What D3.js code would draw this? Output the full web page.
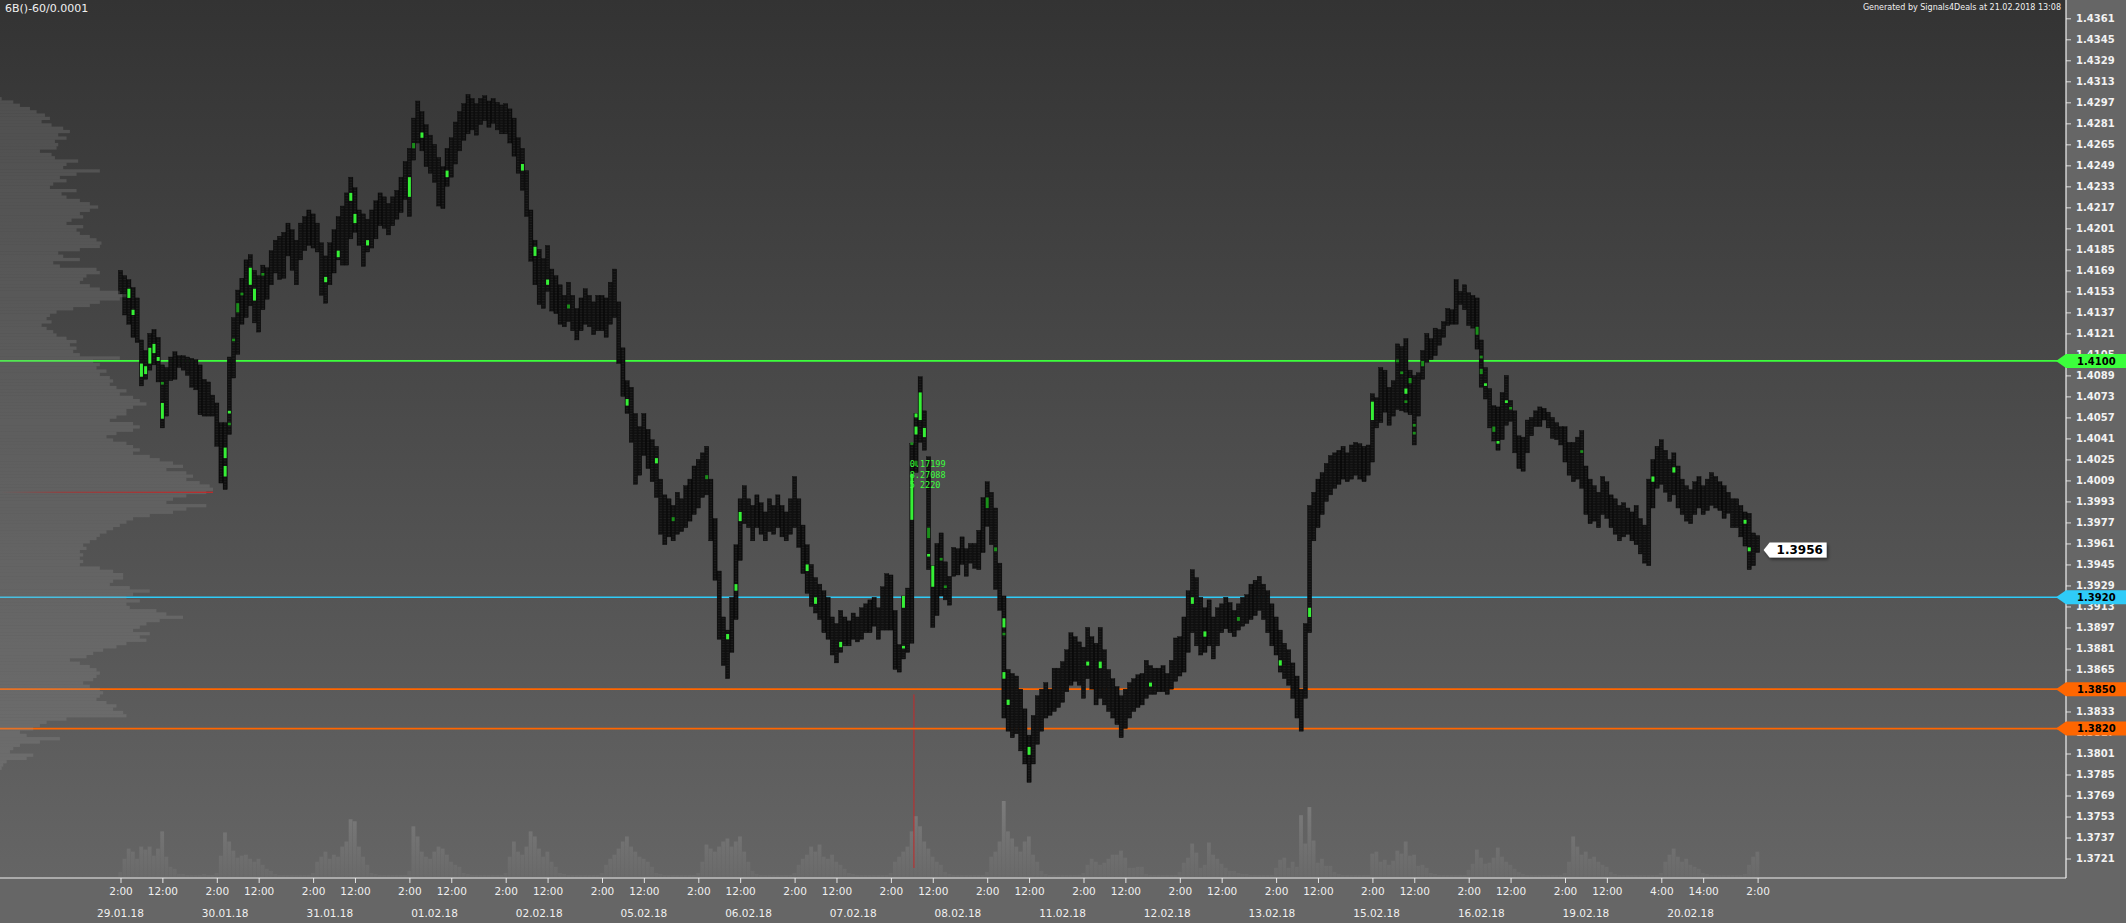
<!DOCTYPE html>
<html><head><meta charset="utf-8">
<script src="https://cdn.jsdelivr.net/npm/d3@7"></script>
<style>
html,body{margin:0;padding:0;background:#656565;overflow:hidden}
svg{display:block}
</style></head><body>
<svg id="c" width="2126" height="923"></svg>
<script>
// ---------------- DATA ----------------
const titleText = "6B()-60/0.0001";
const generatedText = "Generated by Signals4Deals at 21.02.2018 13:08";

// hourly bars (index 0 = 29.01.18 2:00), high / low prices
const highs = [
1.4169,1.4165,1.4162,1.4156,1.4148,1.4116,1.4108,1.4121,1.4124,1.4118,
1.4097,1.4095,1.4103,1.4107,1.4104,1.4104,1.4103,1.4102,1.4101,1.4097,
1.4086,1.4084,1.4074,1.4068,1.4053,1.4053,1.4103,1.4133,1.4154,1.4163,
1.4177,1.4181,1.4169,1.4165,1.4173,1.4171,1.4184,1.4192,1.4195,1.4198,
1.4205,1.4200,1.4192,1.4205,1.4210,1.4215,1.4212,1.4205,1.4190,1.4180,
1.4190,1.4200,1.4210,1.4218,1.4228,1.4240,1.4232,1.4215,1.4212,1.4208,
1.4215,1.4222,1.4228,1.4225,1.4220,1.4225,1.4230,1.4240,1.4252,1.4262,
1.4285,1.4298,1.4290,1.4280,1.4272,1.4265,1.4255,1.4248,1.4262,1.4270,
1.4282,1.4290,1.4296,1.4303,1.4300,1.4296,1.4300,1.4302,1.4298,1.4300,
1.4297,1.4295,1.4296,1.4292,1.4285,1.4270,1.4262,1.4245,1.4215,1.4192,
1.4185,1.4178,1.4188,1.4170,1.4165,1.4158,1.4150,1.4160,1.4150,1.4140,
1.4148,1.4155,1.4150,1.4145,1.4150,1.4150,1.4148,1.4160,1.4170,1.4145,
1.4110,1.4085,1.4080,1.4060,1.4050,1.4060,1.4048,1.4040,1.4035,1.4010,
1.3998,1.3995,1.3990,1.4000,1.3995,1.4005,1.4010,1.4020,1.4025,1.4030,
1.4035,1.4010,1.3980,1.3940,1.3905,1.3895,1.3920,1.3960,1.3995,1.4005,
1.3995,1.3990,1.3998,1.3992,1.3985,1.3995,1.3990,1.3998,1.3990,1.3985,
1.3995,1.4012,1.3995,1.3975,1.3960,1.3945,1.3935,1.3930,1.3925,1.3920,
1.3905,1.3900,1.3910,1.3905,1.3902,1.3908,1.3905,1.3912,1.3915,1.3918,
1.3920,1.3912,1.3928,1.3938,1.3937,1.3910,1.3884,1.3921,1.3927,1.4037,
1.4060,1.4088,1.4062,1.4027,1.3944,1.3961,1.3969,1.3947,1.3936,1.3958,
1.3957,1.3966,1.3957,1.3961,1.3961,1.3971,1.3996,1.4008,1.4000,1.3988,
1.3946,1.3921,1.3865,1.3862,1.3860,1.3850,1.3835,1.3815,1.3830,1.3845,
1.3850,1.3855,1.3850,1.3866,1.3866,1.3871,1.3880,1.3893,1.3890,1.3886,
1.3882,1.3897,1.3890,1.3885,1.3897,1.3880,1.3865,1.3858,1.3852,1.3845,
1.3850,1.3855,1.3858,1.3861,1.3862,1.3872,1.3868,1.3866,1.3866,1.3868,
1.3862,1.3872,1.3889,1.3890,1.3905,1.3925,1.3941,1.3935,1.3920,1.3912,
1.3918,1.3905,1.3912,1.3915,1.3920,1.3916,1.3910,1.3915,1.3920,1.3922,
1.3930,1.3933,1.3936,1.3930,1.3925,1.3915,1.3905,1.3895,1.3885,1.3880,
1.3870,1.3860,1.3850,1.3900,1.3990,1.4000,1.4010,1.4015,1.4022,1.4028,
1.4030,1.4032,1.4035,1.4030,1.4036,1.4038,1.4037,1.4035,1.4036,1.4075,
1.4072,1.4095,1.4093,1.4080,1.4085,1.4113,1.4111,1.4117,1.4093,1.4089,
1.4091,1.4108,1.4121,1.4117,1.4125,1.4124,1.4130,1.4140,1.4139,1.4162,
1.4153,1.4158,1.4152,1.4150,1.4148,1.4116,1.4095,1.4079,1.4066,1.4065,
1.4076,1.4089,1.4070,1.4062,1.4043,1.4042,1.4055,1.4057,1.4062,1.4065,
1.4064,1.4061,1.4057,1.4053,1.4050,1.4050,1.4038,1.4038,1.4042,1.4047,
1.4020,1.4010,1.4005,1.4000,1.4012,1.4008,1.3998,1.3995,1.3990,1.3992,
1.3988,1.3985,1.3990,1.3980,1.3975,1.4010,1.4025,1.4035,1.4040,1.4032,
1.4025,1.4030,1.4020,1.4010,1.4005,1.4002,1.4008,1.4012,1.4005,1.4010,
1.4015,1.4012,1.4008,1.4005,1.4000,1.3995,1.3995,1.3990,1.3985,1.3984,
1.3969,1.3967];
const lows = [
1.4153,1.4137,1.4130,1.4120,1.4116,1.4083,1.4088,1.4095,1.4099,1.4086,
1.4051,1.4060,1.4087,1.4088,1.4097,1.4095,1.4091,1.4082,1.4080,1.4061,
1.4060,1.4060,1.4060,1.4037,1.4009,1.4004,1.4046,1.4089,1.4107,1.4130,
1.4135,1.4144,1.4131,1.4124,1.4141,1.4149,1.4160,1.4169,1.4164,1.4165,
1.4182,1.4171,1.4160,1.4179,1.4186,1.4190,1.4188,1.4185,1.4152,1.4146,
1.4160,1.4169,1.4179,1.4175,1.4175,1.4195,1.4200,1.4190,1.4174,1.4185,
1.4188,1.4195,1.4205,1.4203,1.4198,1.4205,1.4210,1.4215,1.4225,1.4212,
1.4255,1.4268,1.4262,1.4250,1.4245,1.4238,1.4220,1.4218,1.4235,1.4242,
1.4252,1.4262,1.4270,1.4275,1.4278,1.4274,1.4282,1.4285,1.4280,1.4283,
1.4278,1.4275,1.4275,1.4268,1.4258,1.4245,1.4232,1.4212,1.4178,1.4160,
1.4145,1.4142,1.4155,1.4140,1.4138,1.4130,1.4128,1.4132,1.4125,1.4118,
1.4125,1.4130,1.4128,1.4122,1.4125,1.4125,1.4120,1.4130,1.4135,1.4100,
1.4075,1.4062,1.4040,1.4008,1.4015,1.4030,1.4020,1.4010,1.3998,1.3970,
1.3962,1.3968,1.3965,1.3970,1.3972,1.3975,1.3980,1.3985,1.3990,1.3998,
1.4000,1.3965,1.3935,1.3890,1.3870,1.3860,1.3880,1.3905,1.3950,1.3978,
1.3975,1.3965,1.3975,1.3970,1.3965,1.3972,1.3970,1.3975,1.3968,1.3965,
1.3970,1.3975,1.3960,1.3940,1.3925,1.3915,1.3910,1.3905,1.3895,1.3890,
1.3878,1.3872,1.3880,1.3885,1.3885,1.3890,1.3888,1.3890,1.3895,1.3895,
1.3900,1.3890,1.3897,1.3897,1.3897,1.3867,1.3865,1.3875,1.3880,1.3887,
1.4017,1.4040,1.4034,1.3943,1.3899,1.3908,1.3923,1.3920,1.3916,1.3938,
1.3939,1.3947,1.3938,1.3948,1.3944,1.3943,1.3956,1.3976,1.3962,1.3928,
1.3912,1.3830,1.3820,1.3815,1.3818,1.3805,1.3795,1.3781,1.3795,1.3810,
1.3820,1.3830,1.3832,1.3835,1.3838,1.3842,1.3850,1.3855,1.3858,1.3855,
1.3845,1.3860,1.3852,1.3840,1.3845,1.3840,1.3835,1.3830,1.3825,1.3815,
1.3822,1.3830,1.3835,1.3838,1.3840,1.3845,1.3848,1.3848,1.3850,1.3850,
1.3848,1.3852,1.3858,1.3862,1.3865,1.3880,1.3895,1.3885,1.3878,1.3880,
1.3885,1.3875,1.3885,1.3895,1.3898,1.3895,1.3892,1.3897,1.3900,1.3902,
1.3905,1.3908,1.3912,1.3905,1.3895,1.3885,1.3878,1.3865,1.3860,1.3855,
1.3845,1.3830,1.3820,1.3845,1.3895,1.3965,1.3975,1.3985,1.3995,1.4000,
1.4005,1.4008,1.4012,1.4010,1.4012,1.4015,1.4012,1.4010,1.4015,1.4025,
1.4051,1.4055,1.4063,1.4053,1.4060,1.4065,1.4064,1.4063,1.4061,1.4038,
1.4060,1.4088,1.4101,1.4103,1.4106,1.4114,1.4120,1.4129,1.4130,1.4130,
1.4145,1.4141,1.4129,1.4127,1.4111,1.4082,1.4073,1.4051,1.4041,1.4034,
1.4042,1.4053,1.4056,1.4032,1.4020,1.4018,1.4032,1.4045,1.4052,1.4052,
1.4057,1.4051,1.4043,1.4042,1.4038,1.4025,1.4015,1.4010,1.4012,1.4005,
1.3985,1.3978,1.3980,1.3975,1.3985,1.3982,1.3975,1.3970,1.3965,1.3968,
1.3970,1.3965,1.3962,1.3955,1.3948,1.3946,1.3990,1.4005,1.4008,1.4002,
1.3995,1.4000,1.3990,1.3985,1.3980,1.3978,1.3985,1.3990,1.3985,1.3988,
1.3992,1.3990,1.3988,1.3982,1.3986,1.3975,1.3975,1.3968,1.3961,1.3943,
1.3946,1.3956];

// hourly volume (one value per bar)
const volumes = [
5,18,28,25,18,30,27,30,21,28,45,20,10,8,3,3,2,2,2,2,3,2,2,
4,21,44,35,26,19,21,22,18,15,18,12,8,6,3,2,2,2,2,2,2,2,2,
4,15,20,25,18,22,20,30,35,57,55,30,20,12,4,3,2,2,2,2,2,2,2,
6,50,40,25,20,18,25,30,28,22,15,12,10,4,3,2,2,2,2,2,2,2,2,
4,20,35,25,22,30,45,40,28,20,25,15,10,4,3,2,2,2,2,2,2,2,2,
4,12,18,22,28,35,40,30,25,20,18,15,10,4,3,2,2,2,2,2,2,2,2,
4,15,32,28,25,30,35,38,30,35,40,25,15,6,3,2,2,2,2,2,2,2,2,
4,12,18,22,30,25,32,20,18,22,15,12,8,4,3,2,2,2,2,2,2,2,2,
4,15,20,25,30,45,60,50,35,28,20,15,12,5,3,2,2,2,2,2,2,2,2,
5,20,25,35,75,45,38,30,25,35,40,22,15,6,3,2,2,2,2,2,2,2,2,
4,12,18,15,12,14,18,22,22,26,19,9,9,10,10,3,2,2,2,2,2,2,2,
5,14,19,33,24,9,12,34,22,18,13,9,6,6,4,3,3,2,2,2,2,2,2,
9,17,19,9,15,10,61,33,69,36,14,18,11,11,5,3,2,2,2,2,2,2,2,
23,25,15,17,12,16,26,23,35,21,22,11,12,9,4,3,2,2,2,2,2,2,2,
7,13,27,19,13,14,19,29,20,15,12,8,5,3,2,2,2,2,2,2,2,2,2,
4,15,40,30,22,25,18,20,15,12,10,5,3,2,2,2,2,2,2,2,2,2,2,
4,15,22,28,20,15,18,12,10,8,4,3,2,2,2,2,2,2,2,2,3,12,20,
25];

// volume profile (left), from the top price level downward
const profileTop = 1.4301, profileStep = 0.00025;
const profileVolumes = [
5,40,60,90,110,135,150,125,155,190,
210,175,200,165,175,170,120,155,165,235,
200,190,300,230,180,200,160,150,230,185,
200,240,270,295,270,240,250,215,200,250,
230,240,270,290,305,300,240,175,190,240,
160,180,290,300,260,250,240,270,300,360,
380,360,300,270,220,170,150,140,155,125,
140,160,170,200,230,210,230,220,240,360,
280,300,290,320,300,330,340,330,350,380,
360,400,420,440,400,380,380,350,330,400,
420,400,350,320,340,380,400,420,400,450,
480,520,550,500,560,580,560,600,630,640,
620,560,520,500,620,560,520,450,400,380,
360,340,320,300,290,270,250,260,240,250,
240,250,240,300,340,370,
370,340,330,390,450,400,380,420,380,390,
470,500,550,480,440,420,400,450,420,440,
380,350,310,280,260,210,240,270,290,300,
290,280,250,270,300,310,300,290,320,350,
340,370,380,200,140,120,100,60,80,180,
120,60,40,30,100,80,20,10,5];
const pocPrice = 1.4000;

// highlighted volume clusters: [bar, low price, high price, bright]
const clusters = [
[2,1.4148,1.4155,1],[3,1.4135,1.4139,1],[5,1.4088,1.4098,1],[6,1.4090,1.4096,1],
[7,1.4098,1.4110,1],[8,1.4106,1.4113,1],[9,1.4100,1.4103,1],[10,1.4056,1.4068,1],
[10,1.4082,1.4084,0],[25,1.4012,1.4020,1],[25,1.4026,1.4034,1],[26,1.4060,1.4062,1],
[26,1.4051,1.4053,0],[27,1.4115,1.4117,0],[28,1.4137,1.4144,0],[29,1.4150,1.4152,0],
[31,1.4158,1.4171,1],[32,1.4146,1.4155,1],[34,1.4165,1.4167,0],[49,1.4160,1.4164,1],
[52,1.4179,1.4184,1],[55,1.4222,1.4228,1],[56,1.4205,1.4212,1],[59,1.4188,1.4192,1],
[69,1.4225,1.4240,1],[70,1.4262,1.4266,0],[72,1.4270,1.4274,1],[78,1.4240,1.4245,1],
[96,1.4245,1.4250,1],[99,1.4180,1.4187,1],[102,1.4158,1.4162,1],[107,1.4140,1.4143,0],
[121,1.4066,1.4071,1],[128,1.4022,1.4026,1],[132,1.3978,1.3981,0],[140,1.4010,1.4013,0],
[145,1.3888,1.3892,1],[147,1.3925,1.3930,1],[148,1.3978,1.3985,1],[164,1.3940,1.3945,1],
[166,1.3915,1.3920,1],[172,1.3882,1.3886,1],[187,1.3912,1.3921,1],[187,1.3881,1.3883,1],
[189,1.3979,1.4014,1],[189,1.4036,1.4038,0],[190,1.4057,1.4060,1],[190,1.4044,1.4050,1],
[190,1.4020,1.4024,0],[191,1.4055,1.4076,1],[192,1.4042,1.4049,1],[193,1.3965,1.3973,0],
[193,1.3951,1.3953,1],[194,1.3928,1.3944,1],[196,1.3948,1.3950,0],[197,1.3927,1.3929,0],
[207,1.3988,1.3996,0],[209,1.3955,1.3958,0],[211,1.3897,1.3904,1],[211,1.3891,1.3893,0],
[211,1.3858,1.3863,1],[212,1.3838,1.3842,1],[217,1.3800,1.3806,1],[231,1.3868,1.3871,1],
[234,1.3866,1.3871,1],[246,1.3852,1.3855,1],[256,1.3915,1.3920,1],[259,1.3890,1.3894,1],
[267,1.3902,1.3905,0],[277,1.3868,1.3872,1],[284,1.3905,1.3912,1],[299,1.4055,1.4069,1],
[305,1.4099,1.4101,0],[306,1.4090,1.4092,0],[307,1.4075,1.4079,1],[307,1.4068,1.4070,0],
[308,1.4083,1.4087,0],[309,1.4050,1.4052,0],[309,1.4044,1.4046,0],[311,1.4096,1.4100,0],
[324,1.4120,1.4126,0],[325,1.4102,1.4104,0],[325,1.4090,1.4094,0],[326,1.4081,1.4083,1],
[328,1.4046,1.4050,0],[329,1.4037,1.4039,1],[331,1.4068,1.4070,1],[332,1.4063,1.4065,0],
[349,1.4030,1.4032,0],[366,1.4008,1.4012,1],[371,1.4015,1.4019,1],[388,1.3976,1.3979,1],
[389,1.3955,1.3958,1]];

// cluster value labels near the 08.02 spike
const clusterLabels = [
 {bar:189, price:1.4019, text:"0.17199"},
 {bar:189, price:1.4011, text:"8.27088"},
 {bar:189, price:1.4003, text:"5 2220"}];

const levels = [
 {price:1.4100, color:"#3cff3c", label:"1.4100"},
 {price:1.3920, color:"#2fcbf8", label:"1.3920"},
 {price:1.3850, color:"#ff6600", label:"1.3850"},
 {price:1.3820, color:"#ff6600", label:"1.3820"}];
const lastPrice = 1.3956;
const redMarker = {bar:189.5, price:1.3846};

const yTickLabels = ["1.3721","1.3737","1.3753","1.3769","1.3785","1.3801","1.3817","1.3833",
"1.3849","1.3865","1.3881","1.3897","1.3913","1.3929","1.3945","1.3961","1.3977","1.3993",
"1.4009","1.4025","1.4041","1.4057","1.4073","1.4089","1.4105","1.4121","1.4137","1.4153",
"1.4169","1.4185","1.4201","1.4217","1.4233","1.4249","1.4265","1.4281","1.4297","1.4313",
"1.4329","1.4345","1.4361"];
const xTickBars = [0,10,23,33,46,56,69,79,92,102,115,125,138,148,161,171,184,194,207,217,
230,240,253,263,276,286,299,309,322,332,345,355,368,378,391];
const xTickLabels = ["2:00","12:00","2:00","12:00","2:00","12:00","2:00","12:00","2:00","12:00",
"2:00","12:00","2:00","12:00","2:00","12:00","2:00","12:00","2:00","12:00","2:00","12:00",
"2:00","12:00","2:00","12:00","2:00","12:00","2:00","12:00","2:00","12:00","4:00","14:00","2:00"];
const dateBars = [0,25,50,75,100,125,150,175,200,225,250,275,300,325,350,375];
const dateLabels = ["29.01.18","30.01.18","31.01.18","01.02.18","02.02.18","05.02.18","06.02.18",
"07.02.18","08.02.18","11.02.18","12.02.18","13.02.18","15.02.18","16.02.18","19.02.18","20.02.18"];

// ---------------- DRAW ----------------
const W = 2126, H = 923, axisX = 2066, axisY = 878;
const svg = d3.select("#c");
const defs = svg.append("defs");
const x = d3.scaleLinear().domain([0, 391]).range([120.5, 1757.6]);
const y = d3.scaleLinear().domain([1.3801, 1.4361]).range([753.5, 18.3]);
const bw = x(1) - x(0);
const font = "'DejaVu Sans', Verdana, sans-serif";

const bg = defs.append("linearGradient").attr("id","bg").attr("x1",0).attr("y1",0).attr("x2",0).attr("y2",1);
bg.append("stop").attr("offset",0).attr("stop-color","#333333");
bg.append("stop").attr("offset",1).attr("stop-color","#656565");
svg.append("rect").attr("width",W).attr("height",H).attr("fill","#666666");
svg.append("rect").attr("width",axisX).attr("height",axisY).attr("fill","url(#bg)");

// volume bars
const vMax = d3.max(volumes);
const yv = d3.scaleLinear().domain([0, vMax]).range([axisY - 1, axisY - 77]);
const vg = defs.append("linearGradient").attr("id","vg").attr("gradientUnits","userSpaceOnUse")
  .attr("x1",0).attr("y1",axisY-77).attr("x2",0).attr("y2",axisY);
vg.append("stop").attr("offset",0).attr("stop-color","#ffffff").attr("stop-opacity",0.17);
vg.append("stop").attr("offset",1).attr("stop-color","#ffffff").attr("stop-opacity",0.03);
svg.append("g").selectAll("rect").data(volumes).join("rect")
  .attr("x",(d,i)=>x(i)-bw/2).attr("width",bw-0.4)
  .attr("y",d=>yv(d)).attr("height",d=>yv(0)-yv(d)).attr("fill","url(#vg)");

// red marker line
svg.append("line").attr("x1",x(redMarker.bar)).attr("x2",x(redMarker.bar))
  .attr("y1",y(redMarker.price)).attr("y2",axisY-10).attr("stroke","#c42a2a").attr("stroke-width",1);

// level lines
svg.append("g").selectAll("line").data(levels).join("line")
  .attr("x1",0).attr("x2",axisX).attr("y1",d=>y(d.price)).attr("y2",d=>y(d.price))
  .attr("stroke",d=>d.color).attr("stroke-width",1.7);

// price bars with cell grid
const cellH = y(1.4000) - y(1.4002);
const pat = defs.append("pattern").attr("id","cells").attr("patternUnits","userSpaceOnUse")
  .attr("x", x(0)-bw/2).attr("y", y(1.4361)).attr("width", bw).attr("height", cellH);
pat.append("rect").attr("width",bw).attr("height",cellH).attr("fill","#080808");
pat.append("rect").attr("x",0.7).attr("y",0.55).attr("width",bw-1.4).attr("height",cellH-1.1).attr("fill","#1e1e1e");
svg.append("g").selectAll("rect").data(highs).join("rect")
  .attr("x",(d,i)=>x(i)-bw/2).attr("width",bw)
  .attr("y",d=>y(d)).attr("height",(d,i)=>y(lows[i])-y(d)+cellH)
  .attr("fill","url(#cells)").attr("stroke","#0a0a0a").attr("stroke-width",0.4);

// cluster highlights
svg.append("g").selectAll("rect").data(clusters).join("rect")
  .attr("x",d=>x(d[0])-bw/2+0.6).attr("width",bw-1.2)
  .attr("y",d=>y(d[2])).attr("height",d=>Math.max(y(d[1])-y(d[2]),1.6))
  .attr("fill",d=>d[3] ? "#36f036" : "#1a8f1a");

svg.append("g").selectAll("text").data(clusterLabels).join("text")
  .attr("x",d=>x(d.bar)-bw/2).attr("y",d=>y(d.price))
  .attr("font-family","'DejaVu Sans Mono', monospace").attr("font-size",8.5)
  .attr("fill","#3cff3c").text(d=>d.text);

// volume profile (drawn over everything in price area)
const px = d3.scaleLinear().domain([0, d3.max(profileVolumes)]).range([0, 213]);
svg.append("g").selectAll("rect").data(profileVolumes).join("rect")
  .attr("x",0).attr("width",d=>px(d))
  .attr("y",(d,i)=>y(profileTop - i*profileStep))
  .attr("height",(d,i)=>y(profileTop-(i+1)*profileStep)-y(profileTop-i*profileStep))
  .attr("fill","#9a9a9a").attr("fill-opacity",0.24);
const pg = defs.append("linearGradient").attr("id","pg");
pg.append("stop").attr("offset",0).attr("stop-color","#b02a2a").attr("stop-opacity",0);
pg.append("stop").attr("offset",0.3).attr("stop-color","#b02a2a").attr("stop-opacity",0.6);
pg.append("stop").attr("offset",1).attr("stop-color","#c02a2a").attr("stop-opacity",1);
svg.append("rect").attr("x",0).attr("width",px(d3.max(profileVolumes)))
  .attr("y",y(pocPrice)-0.6).attr("height",1.3).attr("fill","url(#pg)");

// axes
const yAxis = d3.axisRight(y).tickValues(yTickLabels.map(Number))
  .tickFormat((d,i)=>yTickLabels[i]).tickSize(5).tickPadding(5);
const gy = svg.append("g").attr("transform",`translate(${axisX},0)`).call(yAxis);
gy.select(".domain").remove();
gy.selectAll(".tick line").attr("stroke","#dcdcdc");
gy.selectAll(".tick text").attr("fill","#f2f2f2").attr("font-family",font)
  .attr("font-size",10).attr("font-weight","bold");

const xAxis = d3.axisBottom(x).tickValues(xTickBars)
  .tickFormat((d,i)=>xTickLabels[i]).tickSize(5).tickPadding(5);
const gx = svg.append("g").attr("transform",`translate(0,${axisY})`).call(xAxis);
gx.select(".domain").remove();
gx.selectAll(".tick line").attr("stroke","#e6e6e6");
gx.selectAll(".tick text").attr("fill","#f0f0f0").attr("font-family",font).attr("font-size",10.5);

svg.append("g").selectAll("text").data(dateLabels).join("text")
  .attr("x",(d,i)=>x(dateBars[i])).attr("y",axisY+39).attr("text-anchor","middle")
  .attr("font-family",font).attr("font-size",10.5).attr("fill","#f0f0f0").text(d=>d);

svg.append("line").attr("x1",0).attr("x2",axisX).attr("y1",axisY).attr("y2",axisY)
  .attr("stroke","#f0f0f0").attr("stroke-width",1.2);
svg.append("line").attr("x1",axisX).attr("x2",axisX).attr("y1",0).attr("y2",axisY)
  .attr("stroke","#f0f0f0").attr("stroke-width",1.2);

// level markers on the axis
const lm = svg.append("g").selectAll("g").data(levels).join("g")
  .attr("transform",d=>`translate(${axisX},${y(d.price)})`);
lm.append("path").attr("d","M-10,0 L0,-7 L60,-7 L60,7 L0,7 Z").attr("fill",d=>d.color);
lm.append("text").attr("x",11).attr("dy","0.36em").attr("font-family",font)
  .attr("font-size",10).attr("font-weight","bold").attr("fill","#000").text(d=>d.label);

// last price label
const sh = defs.append("filter").attr("id","sh").attr("x","-20%").attr("y","-40%").attr("width","150%").attr("height","200%");
sh.append("feDropShadow").attr("dx",1.5).attr("dy",2).attr("stdDeviation",1.5).attr("flood-color","#000").attr("flood-opacity",0.5);
const lp = svg.append("g").attr("transform",`translate(${x(391)+6},${y(lastPrice)})`);
lp.append("path").attr("d","M0,0 L6,-7.5 L63,-7.5 L63,7.5 L6,7.5 Z").attr("fill","#ffffff").attr("filter","url(#sh)");
lp.append("text").attr("x",13).attr("dy","0.37em").attr("font-family",font)
  .attr("font-size",12).attr("font-weight","bold").attr("fill","#000").text(d3.format(".4f")(lastPrice));

// titles
svg.append("text").attr("x",5).attr("y",12).attr("font-family",font).attr("font-size",11)
  .attr("fill","#f0f0f0").text(titleText);
svg.append("text").attr("x",axisX-5).attr("y",10).attr("text-anchor","end").attr("font-family",font)
  .attr("font-size",8).attr("fill","#f0f0f0").text(generatedText);
</script>
</body></html>
